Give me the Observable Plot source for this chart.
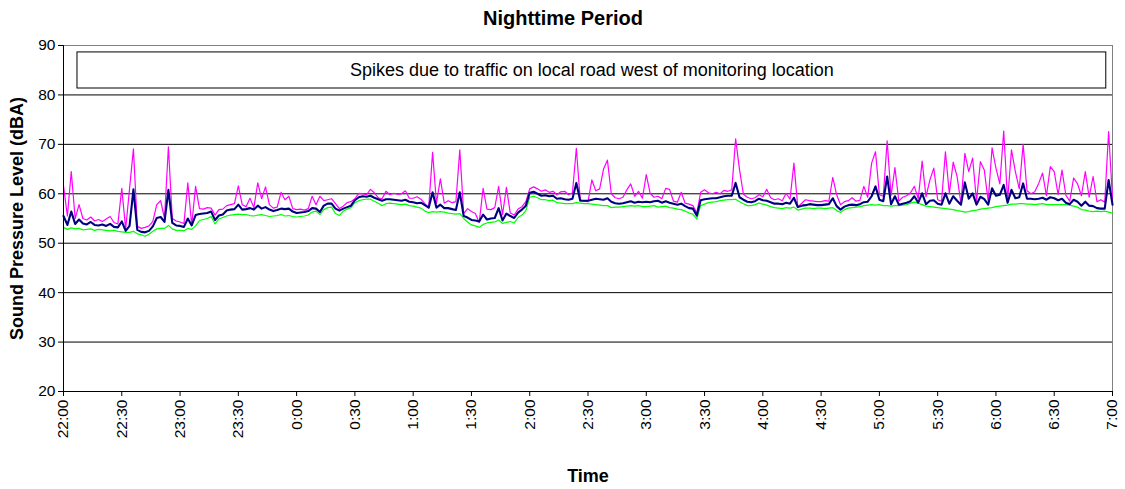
<!DOCTYPE html>
<html>
<head>
<meta charset="utf-8">
<script src="https://cdn.jsdelivr.net/npm/d3@7"></script>
<script src="https://cdn.jsdelivr.net/npm/@observablehq/plot@0.6"></script>
<style>
  html, body { margin: 0; padding: 0; background: #fff; }
</style>
</head>
<body>
<div id="chart"></div>
<script>
// Minutes after 22:00, sampled every 2 minutes (0 .. 540)
const minutes = d3.range(0, 541, 2);

// Maximum level (magenta)
const levelMax = [
  61.6,55.5,64.5,55.0,57.8,55.0,54.7,55.3,54.5,54.8,54.4,54.9,55.4,54.2,53.9,
  61.1,52.9,61.0,69.1,53.4,53.0,53.2,53.5,54.4,57.8,58.6,55.0,69.5,55.0,54.5,
  54.3,54.0,62.2,53.7,61.5,57.0,56.9,57.2,57.1,55.7,56.8,56.9,57.6,57.8,58.0,
  61.6,57.8,57.4,59.1,57.2,62.2,59.0,61.4,57.8,57.1,57.3,60.3,58.8,59.5,57.0,
  56.8,56.9,56.7,57.0,59.5,57.8,59.5,58.6,58.8,59.0,58.0,57.0,57.5,58.2,58.4,
  59.0,60.1,60.0,59.8,60.9,60.2,59.2,59.0,60.5,59.8,60.1,59.9,60.0,60.6,59.1,
  59.1,59.4,58.9,58.0,57.2,68.4,58.1,63.0,58.1,58.6,58.2,58.4,68.9,56.0,57.0,
  56.4,56.0,54.2,61.1,56.9,56.8,57.2,61.5,55.8,61.3,56.1,55.7,56.9,57.4,58.4,
  61.0,61.4,61.0,60.5,60.8,60.3,60.5,59.8,60.4,60.5,59.8,60.2,69.2,58.8,58.5,
  58.4,62.8,60.6,61.0,65.0,66.8,60.0,59.2,59.0,59.3,60.8,62.0,59.5,60.5,59.1,
  63.9,60.1,59.3,59.5,59.0,61.1,60.9,58.5,58.3,60.3,58.1,57.9,57.6,56.1,60.3,
  60.8,60.2,60.0,60.3,60.0,60.7,60.5,60.8,71.1,64.9,59.9,59.3,59.0,59.2,59.8,
  59.4,60.9,59.2,58.8,59.0,58.6,60.1,58.9,66.2,57.3,58.1,58.8,58.6,58.5,58.4,
  58.4,58.6,58.5,63.3,59.8,57.8,58.4,58.6,59.2,58.5,58.7,61.5,59.3,66.2,68.5,
  59.8,59.5,70.7,59.6,65.3,58.5,59.3,59.6,60.2,61.5,59.0,66.6,59.4,62.8,65.2,
  58.8,58.5,68.5,60.0,66.4,63.5,58.0,68.2,64.5,67.2,58.5,66.5,64.8,58.5,69.3,
  65.2,62.0,72.7,58.6,68.9,64.5,61.0,70.0,60.6,60.0,60.4,62.1,64.2,59.6,65.5,
  64.5,59.8,64.8,59.7,58.5,63.2,62.0,59.6,64.5,59.3,63.5,58.4,58.8,58.3,72.6,59.0
];

// Equivalent level (navy)
const levelLeq = [
  55.5,53.7,56.4,53.9,54.8,54.0,53.8,54.3,53.7,53.6,53.8,53.5,53.9,53.3,53.2,
  54.4,52.5,53.5,60.9,52.7,52.3,52.2,52.5,53.4,55.1,55.3,54.3,60.8,54.1,53.6,
  53.5,53.3,55.0,53.6,55.7,55.9,56.0,56.1,56.4,54.7,55.6,55.8,56.6,56.8,56.9,
  57.8,56.8,56.9,57.1,56.8,57.6,57.0,57.3,56.8,56.5,56.7,57.0,56.9,57.0,56.4,
  56.1,56.2,56.3,56.5,57.1,57.0,56.3,57.6,58.0,58.0,57.0,56.6,57.0,57.3,57.6,
  58.7,59.3,59.5,59.4,59.6,59.2,58.9,58.6,58.9,58.9,58.8,58.7,58.6,58.8,58.4,
  58.3,58.1,58.2,57.7,57.2,60.3,57.2,57.8,57.1,57.1,56.9,56.7,60.3,55.5,55.2,
  54.7,54.6,54.4,55.8,54.8,55.0,55.1,57.1,54.6,56.0,55.5,55.1,56.2,56.8,57.6,
  60.2,60.4,60.0,59.6,59.7,59.5,59.6,59.0,59.1,58.9,58.8,59.0,62.2,58.6,58.6,
  58.6,58.8,59.0,58.9,58.8,59.1,58.4,58.1,58.0,58.1,58.3,58.5,58.2,58.4,58.3,
  58.4,58.3,58.5,58.6,58.2,58.5,58.2,58.0,57.8,58.0,57.5,57.1,57.0,55.6,58.7,
  58.9,59.0,59.1,59.1,59.3,59.5,59.6,59.6,62.2,59.3,58.8,58.4,58.3,58.5,59.0,
  58.7,58.6,58.3,58.0,58.0,57.9,58.2,58.0,59.2,57.3,57.6,57.7,57.9,57.8,57.7,
  57.7,57.8,57.9,59.1,57.5,56.8,57.4,57.7,57.8,57.7,57.9,58.3,58.4,59.5,61.5,
  58.8,58.5,63.5,57.9,59.5,57.8,58.0,58.2,58.5,59.5,58.2,60.1,57.9,58.6,58.7,
  58.0,57.8,60.1,58.0,59.5,58.6,57.8,62.3,59.0,60.1,57.8,59.4,58.9,57.8,61.1,
  59.6,59.8,61.8,58.2,60.8,59.1,59.3,62.1,59.0,59.0,58.9,59.0,59.2,58.8,59.3,
  59.1,58.7,59.0,58.2,57.9,58.8,58.4,57.6,58.4,57.6,57.5,57.1,57.0,57.0,62.8,57.8
];

// Minimum level (green)
const levelMin = [
  53.2,52.8,53.1,52.9,53.0,52.7,52.8,52.9,52.6,52.8,52.7,52.6,52.5,52.6,52.4,
  52.3,52.2,52.2,52.4,51.9,51.7,51.4,51.8,52.4,52.9,53.0,53.0,53.6,52.9,52.6,
  52.6,52.5,53.0,52.8,53.5,54.6,54.8,55.0,55.4,53.9,54.9,55.2,55.5,55.7,55.8,
  55.9,55.8,55.8,55.6,55.5,55.7,55.8,55.6,55.4,55.5,55.6,55.8,55.5,55.6,55.4,
  55.3,55.4,55.5,55.7,56.3,56.5,55.8,56.8,57.2,57.3,56.0,55.6,56.5,56.9,57.2,
  58.2,58.6,58.8,58.9,58.9,58.5,58.1,57.6,58.0,58.1,58.0,57.9,57.8,57.9,57.6,
  57.5,57.3,57.1,56.5,56.2,56.4,56.3,56.4,56.3,56.1,56.0,55.9,56.0,55.0,54.3,
  53.7,53.5,53.2,53.8,54.1,54.2,54.3,54.7,54.0,54.2,54.4,54.1,55.2,55.7,56.6,
  59.3,59.5,59.2,58.8,58.8,58.6,58.7,58.2,58.1,58.0,58.0,58.0,58.2,58.1,58.0,
  58.0,57.9,57.8,57.7,57.6,57.6,57.2,57.3,57.3,57.4,57.5,57.6,57.5,57.6,57.4,
  57.4,57.5,57.6,57.3,57.4,57.5,57.2,57.1,56.9,56.8,56.5,56.1,55.9,54.9,57.6,
  57.9,58.2,58.3,58.4,58.6,58.7,58.8,58.8,58.9,58.4,58.0,57.6,57.6,57.8,58.1,
  57.9,57.7,57.4,57.2,57.1,57.0,57.2,57.1,57.3,56.7,56.9,57.1,57.1,57.0,57.1,
  57.1,57.0,57.1,57.2,56.6,56.2,56.8,57.1,57.2,57.3,57.4,57.6,57.7,57.8,57.7,
  57.8,57.6,57.6,57.5,57.6,57.6,57.7,57.8,58.1,58.3,58.1,57.8,57.5,57.4,57.3,
  57.2,57.1,57.0,56.9,56.8,56.6,56.5,56.3,56.4,56.6,56.7,56.9,57.0,57.1,57.2,
  57.4,57.5,57.6,57.7,57.9,57.9,58.0,58.0,57.9,57.9,57.8,57.9,58.0,57.8,57.8,
  57.8,57.8,57.8,57.8,57.7,57.5,57.3,56.8,56.7,56.5,56.4,56.5,56.4,56.5,56.3,56.1
];

// Axis ticks
const xTickMinutes = d3.range(0, 541, 30);
const xTickLabels = ["22:00","22:30","23:00","23:30","0:00","0:30","1:00","1:30","2:00",
  "2:30","3:00","3:30","4:00","4:30","5:00","5:30","6:00","6:30","7:00"];
const yTicks = [20, 30, 40, 50, 60, 70, 80, 90];
const yGrid = [30, 40, 50, 60, 70, 80];

// Annotation box (in data units)
const annotation = [{x1: 7.2, x2: 536.8, y1: 81.3, y2: 88.6,
  label: "Spikes due to traffic on local road west of monitoring location"}];

const rows = minutes.map((t, i) => ({t, max: levelMax[i], leq: levelLeq[i], min: levelMin[i]}));

const font = "'Liberation Sans', Arial, Helvetica, sans-serif";

const chart = Plot.plot({
  width: 1125,
  height: 489,
  marginTop: 45,
  marginBottom: 98,
  marginLeft: 63,
  marginRight: 13,
  style: {fontFamily: font, fontSize: "15px", color: "black", background: "white", overflow: "visible"},
  x: {domain: [0, 540]},
  y: {domain: [20, 90]},
  marks: [
    Plot.frame({stroke: "#808080"}),
    Plot.ruleY(yGrid, {stroke: "black", strokeWidth: 1}),
    Plot.rect(annotation, {x1: "x1", x2: "x2", y1: "y1", y2: "y2", stroke: "black", fill: "white", strokeWidth: 1}),
    Plot.text(annotation, {x: d => (d.x1 + d.x2) / 2, y: d => (d.y1 + d.y2) / 2, text: "label", fontSize: 18, fill: "black"}),
    Plot.line(rows, {x: "t", y: "min", stroke: "#00FF00", strokeWidth: 1.2}),
    Plot.line(rows, {x: "t", y: "max", stroke: "#FF00FF", strokeWidth: 1.2}),
    Plot.line(rows, {x: "t", y: "leq", stroke: "#000080", strokeWidth: 2.1}),
    Plot.ruleX([0], {stroke: "black"}),
    Plot.ruleY([20], {stroke: "black"}),
    Plot.axisY({ticks: yTicks, tickSize: 5, tickPadding: 3, label: null, fontSize: 15.5}),
    Plot.axisX({ticks: xTickMinutes, tickFormat: d => xTickLabels[Math.round(d / 30)], tickRotate: -90, tickSize: 5, tickPadding: 3, label: null, fontSize: 15.5}),
    Plot.text(["Nighttime Period"], {frameAnchor: "top", lineAnchor: "middle", dx: -25, dy: -27, fontWeight: "bold", fontSize: 20, fill: "black"}),
    Plot.text(["Sound Pressure Level (dBA)"], {frameAnchor: "left", textAnchor: "middle", lineAnchor: "middle", dx: -46, rotate: -90, fontWeight: "bold", fontSize: 18, fill: "black"}),
    Plot.text(["Time"], {frameAnchor: "bottom", lineAnchor: "middle", dy: 85, fontWeight: "bold", fontSize: 18, fill: "black"})
  ]
});

document.getElementById("chart").appendChild(chart);
</script>
</body>
</html>
